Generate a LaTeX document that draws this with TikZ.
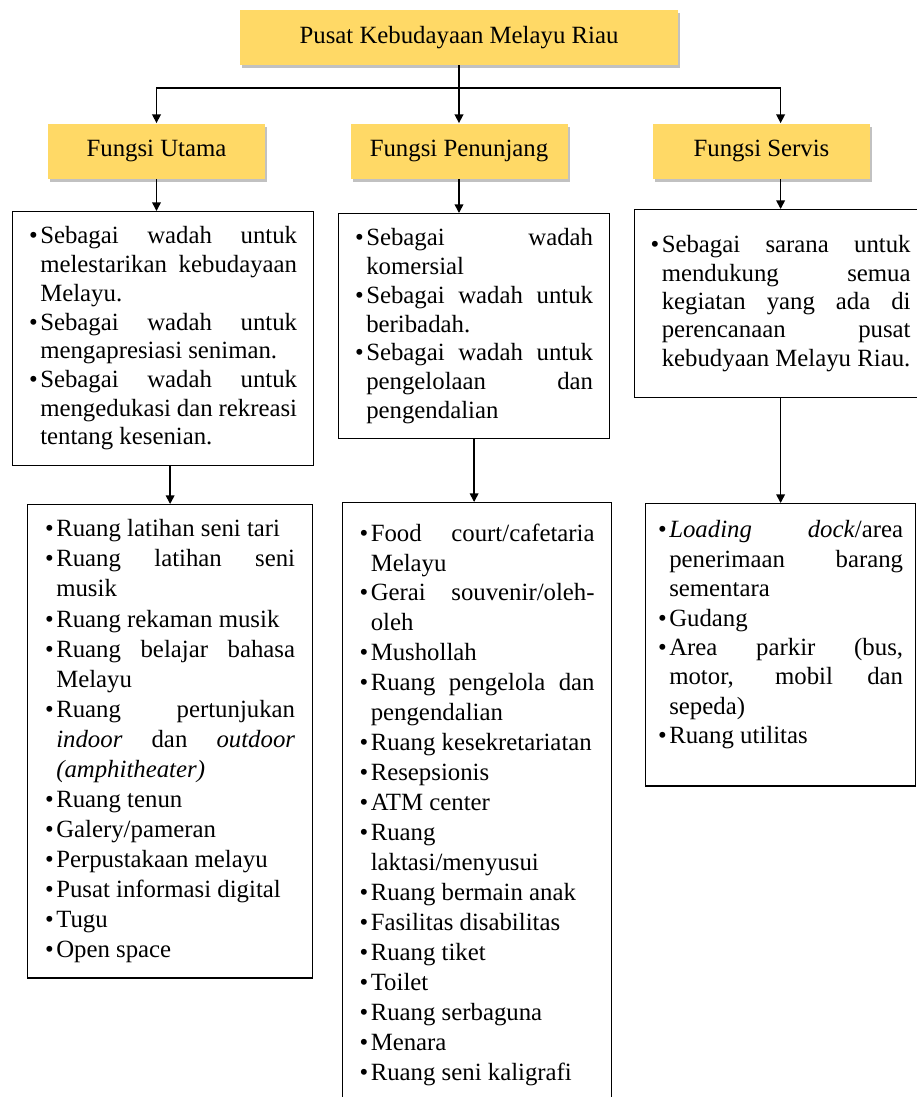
\documentclass[tikz,border=0pt]{standalone}
\usepackage{fontspec}
\setmainfont{Liberation Serif}
\usepackage{xcolor}
\usetikzlibrary{arrows.meta,shadows}

\definecolor{emas}{HTML}{FFD966}
\newlength{\px}
\setlength{\px}{0.4839pt}
\newcommand{\butir}{\par\noindent\hangindent=0.45em\hangafter=1\makebox[0.45em][l]{\textbullet}}
\hyphenpenalty=10000
\tolerance=10000

\tikzset{
	judul/.style={fill=emas, minimum height=55\px, inner sep=0pt, font=\fontsize{12pt}{14pt}\selectfont,
		drop shadow={shadow xshift=1.2pt, shadow yshift=-1.6pt, opacity=0.4, fill=black!60}},
	isi/.style={draw, line width=0.6pt, anchor=north west, font=\fontsize{12pt}{#1}\selectfont},
	panah/.style={line width=0.75pt, -{Triangle[width=4.2pt, length=4.2pt]}},
}

\begin{document}
\begin{tikzpicture}[x=0.4839pt, y=-0.4839pt]
	\path[use as bounding box, fill=white] (0,0) rectangle (917,1097);

	% kotak judul
	\node[judul, minimum width=438\px] (pusat) at (459,37.5) {Pusat Kebudayaan Melayu Riau};
	\node[judul, minimum width=217\px] (utama) at (156.5,151) {Fungsi Utama};
	\node[judul, minimum width=217\px] (penunjang) at (459,151) {Fungsi Penunjang};
	\node[judul, minimum width=217\px] (servis) at (761.5,151) {Fungsi Servis};

	% uraian tiap fungsi
	\node[isi=13.9pt, inner xsep=16.5\px, inner ysep=15\px] (utamaIsi) at (12,211) {\parbox{268\px}{%
		\butir Sebagai wadah untuk\linebreak melestarikan kebudayaan\linebreak Melayu.
		\butir Sebagai wadah untuk\linebreak mengapresiasi seniman.
		\butir Sebagai wadah untuk\linebreak mengedukasi dan rekreasi\linebreak tentang kesenian.}};
	\node[isi=13.9pt, inner xsep=16.5\px, inner ysep=15\px] (penunjangIsi) at (338,213) {\parbox{238\px}{%
		\butir Sebagai wadah\linebreak komersial
		\butir Sebagai wadah untuk\linebreak beribadah.
		\butir Sebagai wadah untuk\linebreak pengelolaan dan\linebreak pengendalian}};
	\node[isi=13.7pt, inner xsep=16\px, inner ysep=26\px] (servisIsi) at (634,209) {\parbox{260\px}{%
		\butir Sebagai sarana untuk\linebreak mendukung semua\linebreak kegiatan yang ada di\linebreak perencanaan pusat\linebreak kebudyaan Melayu Riau.}};

	% daftar ruang
	\node[isi=14.55pt, inner xsep=17.5\px, inner ysep=15\px] (utamaRuang) at (27,504) {\parbox{250\px}{%
		\butir Ruang latihan seni tari
		\butir Ruang latihan seni\linebreak musik
		\butir Ruang rekaman musik
		\butir Ruang belajar bahasa\linebreak Melayu
		\butir Ruang pertunjukan\linebreak \textit{indoor} dan \textit{outdoor}\linebreak \textit{(amphitheater)}
		\butir Ruang tenun
		\butir Galery/pameran
		\butir Perpustakaan melayu
		\butir Pusat informasi digital
		\butir Tugu
		\butir Open space}};
	\node[isi=14.49pt, inner xsep=17\px, inner ysep=21\px] (penunjangRuang) at (342,502) {\parbox{235\px}{%
		\butir Food court/cafetaria\linebreak Melayu
		\butir Gerai souvenir/oleh-\linebreak oleh
		\butir Mushollah
		\butir Ruang pengelola dan\linebreak pengendalian
		\butir Ruang kesekretariatan
		\butir Resepsionis
		\butir ATM center
		\butir Ruang\newline laktasi/menyusui
		\butir Ruang bermain anak
		\butir Fasilitas disabilitas
		\butir Ruang tiket
		\butir Toilet
		\butir Ruang serbaguna
		\butir Menara
		\butir Ruang seni kaligrafi}};
	\node[isi=14.23pt, inner xsep=12.5\px, inner ysep=17\px] (servisRuang) at (645,503) {\parbox{245\px}{%
		\butir \textit{Loading} \textit{dock}/area\linebreak penerimaan barang\linebreak sementara
		\butir Gudang
		\butir Area parkir (bus,\linebreak motor, mobil dan\linebreak sepeda)
		\butir Ruang utilitas
		\par\vspace{-2pt}\null}};

	% garis penghubung
	\coordinate (cabang) at (459,88);
	\draw[line width=0.75pt] (pusat) -- (cabang);
	\draw[panah] (cabang) -| (utama);
	\draw[panah] (cabang) -- (penunjang);
	\draw[panah] (cabang) -| (servis.north -| servisIsi.north);
	\draw[panah] (utama) -- (utama.south |- utamaIsi.north);
	\draw[panah] (penunjang) -- (penunjang.south |- penunjangIsi.north);
	\draw[panah] (servis.south -| servisIsi.north) -- (servisIsi.north);
	\draw[panah] (utamaIsi.south -| utamaRuang.north) -- (utamaRuang.north);
	\draw[panah] (penunjangIsi.south) -- (penunjangIsi.south |- penunjangRuang.north);
	\draw[panah] (servisIsi.south -| servisRuang.north) -- (servisRuang.north);
\end{tikzpicture}
\end{document}
